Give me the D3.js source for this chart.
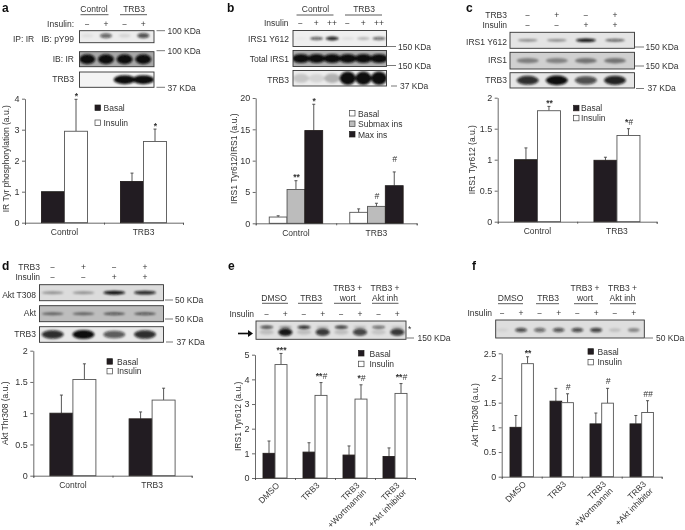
<!DOCTYPE html>
<html>
<head>
<meta charset="utf-8">
<script src="https://cdn.jsdelivr.net/npm/d3@7"></script>
<style>
  html, body { margin: 0; padding: 0; background: #fff; }
  svg { display: block; }
  text { font-family: "Liberation Sans", Arial, sans-serif; font-size: 8.5px; fill: #333; }
  .letter { font-size: 12px; font-weight: bold; fill: #111; }
  .domain, .tick line { stroke: #444; stroke-width: 0.8; }
</style>
</head>
<body>
<script>
const width = 685
const height = 530

// bar values
const groups2 = ['Control', 'TRB3']
const groups4 = ['DMSO', 'TRB3', 'TRB3|+Wortmannin', 'TRB3|+Akt inhibitor']
const seriesBI = ['Basal', 'Insulin']
const seriesIns = ['Basal', 'Submax ins', 'Max ins']

const aValues = [[1, 2.95], [1.33, 2.62]]
const aErrors = [[1, 3.98], [1.6, 3.02]]
const aMarks = [['', '*'], ['', '*']]

const bValues = [[1, 5.4, 14.8], [1.75, 2.7, 6]]
const bErrors = [[1.2, 6.8, 19], [2.3, 3.2, 8.2]]
const bMarks = [['', '**', '*'], ['', '#', '#']]

const cValues = [[1, 1.79], [0.99, 1.39]]
const cErrors = [[1.19, 1.86], [1.04, 1.5]]
const cMarks = [['', '**'], ['', '*#']]

const dValues = [[1, 1.54], [0.91, 1.21]]
const dErrors = [[1.29, 1.79], [1.02, 1.4]]
const dMarks = [['', ''], ['', '']]

const eValues = [[1, 4.6], [1.05, 3.35], [0.93, 3.2], [0.87, 3.43]]
const eErrors = [[1.5, 5.05], [1.43, 3.87], [1.3, 3.78], [1.22, 3.83]]
const eMarks = [['', '***'], ['', '**#'], ['', '*#'], ['', '**#']]

const fValues = [[1, 2.29], [1.53, 1.5], [1.07, 1.49], [1.07, 1.3]]
const fErrors = [[1.24, 2.43], [1.79, 1.68], [1.29, 1.79], [1.24, 1.54]]
const fMarks = [['', '**'], ['', '#'], ['', '#'], ['', '##']]

// band strength per lane, blot by blot
const aBlot1 = [0.06, 0.6, 0.1, 0.7]
const aBlot2 = [1, 1, 1, 1]
const aBlot3 = [0, 0, 1, 1]
const bBlot1 = [0.03, 0.6, 0.9, 0.08, 0.25, 0.55]
const bBlot2 = [1, 1, 1, 1, 1, 1]
const bBlot3 = [0.16, 0.1, 0.25, 1, 1, 1]
const cBlot1 = [0.4, 0.4, 1, 0.6]
const cBlot2 = [0.4, 0.38, 0.45, 0.45]
const cBlot3 = [0.85, 1, 0.7, 0.9]
const dBlot1 = [0.35, 0.35, 1, 0.9]
const dBlot2 = [0.5, 0.5, 0.6, 0.6]
const dBlot3 = [0.85, 1, 0.65, 0.85]
const eBlotUpper = [0.75, 0.35, 0.9, 0.2, 0.85, 0.2, 0.6, 0.15]
const eBlotLower = [0.15, 0.95, 0.15, 0.8, 0.15, 0.75, 0.12, 0.8]
const fBlot = [0.06, 0.7, 0.55, 0.65, 0.7, 0.75, 0.15, 0.4]

const svg = d3.select('body').append('svg')
  .attr('width', width)
  .attr('height', height)
  .style('background', '#fff')

const defs = svg.append('defs')
defs.append('filter').attr('id', 'soft')
  .attr('x', 0).attr('y', 0).attr('width', 1).attr('height', 1)
  .append('feGaussianBlur').attr('stdDeviation', 0.3)
defs.append('filter').attr('id', 'smear')
  .attr('x', '-30%').attr('y', '-60%').attr('width', '160%').attr('height', '220%')
  .append('feGaussianBlur').attr('stdDeviation', 0.9)

const root = svg.append('g').attr('filter', 'url(#soft)')

const BLACK = '#231f20'
const fillsBI = [BLACK, '#fff']
const fillsIns = ['#fff', '#bcbcbc', BLACK]

function label(x, y, str, anchor, cls) {
  return root.append('text')
    .attr('x', x)
    .attr('y', y)
    .attr('text-anchor', anchor || 'start')
    .attr('class', cls || null)
    .text(str)
}

function rule(x1, x2, y, color) {
  root.append('line')
    .attr('x1', x1).attr('x2', x2).attr('y1', y).attr('y2', y)
    .attr('stroke', color || '#333')
    .attr('stroke-width', 0.8)
}

function drawChart(p) {
  const g = root.append('g')
  const y = d3.scaleLinear().domain([0, p.yMax]).range([p.y0, p.y1])
  const n = p.groups.length
  const xTicks = d3.scaleLinear().domain([0, n]).range([p.x0, p.x1])
  const x = d3.scaleBand().domain(p.groups).range([p.x0, p.x1])
  const inner = d3.scaleBand()
    .domain(p.series)
    .range([x.bandwidth() / 2 - p.barW * p.series.length / 2, x.bandwidth() / 2 + p.barW * p.series.length / 2])
  const color = d3.scaleOrdinal().domain(p.series).range(p.fills)

  const groupG = g.selectAll('.group')
    .data(p.groups)
    .enter()
    .append('g')
    .attr('class', 'group')
    .attr('transform', d => 'translate(' + x(d) + ',0)')

  groupG.each(function (gName, gi) {
    const sel = d3.select(this)
    p.series.forEach(function (s, si) {
      const v = p.values[gi][si]
      const e = p.errors[gi][si]
      const cx = inner(s) + inner.bandwidth() / 2
      if (e > v) {
        sel.append('line')
          .attr('x1', cx).attr('x2', cx).attr('y1', y(v)).attr('y2', y(e))
          .attr('stroke', '#444').attr('stroke-width', 0.9)
        sel.append('line')
          .attr('x1', cx - 1.5).attr('x2', cx + 1.5).attr('y1', y(e)).attr('y2', y(e))
          .attr('stroke', '#444').attr('stroke-width', 0.9)
      }
      sel.append('rect')
        .attr('x', inner(s))
        .attr('y', y(v))
        .attr('width', inner.bandwidth())
        .attr('height', y(0) - y(v))
        .attr('fill', color(s))
        .attr('stroke', color(s) === BLACK ? BLACK : '#555')
        .attr('stroke-width', 0.9)

      const mark = p.marks[gi][si]
      if (mark) {
        const lift = (p.lift && p.lift[gi + ',' + si]) || 0
        const t = sel.append('text')
          .attr('x', cx + 0.5)
          .attr('y', y(e) - (mark.includes('#') ? 4 : 0.5) - lift)
          .attr('text-anchor', 'middle')
        const stars = mark.replace(/#/g, '')
        const hashes = mark.replace(/\*/g, '')
        if (stars) t.append('tspan').style('font-weight', 'bold').text(stars)
        if (hashes) t.append('tspan').style('font-style', 'italic').text(hashes)
      }
    })
  })

  g.append('g')
    .attr('transform', 'translate(' + p.x0 + ',0)')
    .call(d3.axisLeft(y).tickValues(p.yTicks).tickFormat(String).tickSize(3).tickSizeOuter(0).tickPadding(2.5))
    .call(a => a.selectAll('text').style('font-size', '9px'))
  g.append('g')
    .attr('transform', 'translate(0,' + p.y0 + ')')
    .call(d3.axisBottom(xTicks).ticks(n).tickFormat('').tickSize(2).tickSizeOuter(2))

  // category labels, straight or slanted
  p.groups.forEach(function (name) {
    const cx = x(name) + x.bandwidth() / 2
    if (p.slant) {
      const lines = name.split('|')
      const t = g.append('text')
        .attr('transform', 'translate(' + (cx + 5) + ',' + (p.y0 + 8) + ') rotate(-45)')
        .attr('text-anchor', 'end')
      lines.forEach((l, i) => t.append('tspan').attr('x', 0).attr('dy', i ? 9.5 : 0).text(l))
    } else {
      g.append('text')
        .attr('x', cx).attr('y', p.y0 + 12.5)
        .attr('text-anchor', 'middle')
        .text(name)
    }
  })

  g.append('text')
    .attr('transform', 'translate(' + p.titleX + ',' + ((p.y0 + p.y1) / 2 + p.titleDy) + ') rotate(-90)')
    .attr('text-anchor', 'middle')
    .text(p.title)

  // legend
  const legend = g.selectAll('.key')
    .data(p.series)
    .enter()
    .append('g')
    .attr('class', 'key')
    .attr('transform', (d, i) => 'translate(' + p.legX + ',' + (p.legY + i * p.legStep) + ')')
  legend.append('rect')
    .attr('x', 0).attr('y', -3).attr('width', 5.5).attr('height', 5.5)
    .attr('fill', d => color(d))
    .attr('stroke', d => color(d) === BLACK ? BLACK : '#444')
    .attr('stroke-width', 0.7)
  legend.append('text')
    .attr('x', p.legText)
    .attr('y', 3)
    .text(d => d)
}

function drawBands(g, b, data, shift, rx, ry) {
  const lanes = d3.scalePoint().domain(d3.range(data.length)).range([b.l0, b.l1])
  g.append('g')
    .attr('filter', 'url(#smear)')
    .selectAll('ellipse')
    .data(data)
    .enter()
    .append('ellipse')
    .attr('cx', (d, i) => lanes(i))
    .attr('cy', (b.y0 + b.y1) / 2 + shift)
    .attr('rx', rx)
    .attr('ry', d => ry * (0.6 + 0.4 * d))
    .attr('fill', '#0c0c0c')
    .attr('opacity', d => d)
}

function drawBlot(b) {
  const g = root.append('g')
  const clipId = 'clip' + Math.round(b.x0) + Math.round(b.y0)
  defs.append('clipPath').attr('id', clipId)
    .append('rect')
    .attr('x', b.x0).attr('y', b.y0)
    .attr('width', b.x1 - b.x0).attr('height', b.y1 - b.y0)
  g.append('rect')
    .attr('x', b.x0).attr('y', b.y0)
    .attr('width', b.x1 - b.x0).attr('height', b.y1 - b.y0)
    .attr('fill', b.bg)
  const inside = g.append('g').attr('clip-path', 'url(#' + clipId + ')')
  drawBands(inside, b, b.data, b.shift || 0, b.rx, b.ry)
  if (b.lower) drawBands(inside, b, b.lower, b.lowerShift, b.lowerRx, b.lowerRy)
  g.append('rect')
    .attr('x', b.x0).attr('y', b.y0)
    .attr('width', b.x1 - b.x0).attr('height', b.y1 - b.y0)
    .attr('fill', 'none')
    .attr('stroke', '#333')
    .attr('stroke-width', 0.9)
}

function signs(list, scale, y) {
  list.forEach((s, i) => {
    root.append('text')
      .attr('x', scale(i))
      .attr('y', y)
      .attr('text-anchor', 'middle')
      .text(s === '-' ? '\u2212' : s)
  })
}

function sizeMark(x1, x2, y, str, tx, ty) {
  rule(x1, x2, y, '#555')
  label(tx, ty, str)
}

// panel letters
label(2, 11.5, 'a', 'start', 'letter')
label(227, 11.5, 'b', 'start', 'letter')
label(466, 11.5, 'c', 'start', 'letter')
label(2, 270, 'd', 'start', 'letter')
label(228, 270, 'e', 'start', 'letter')
label(472, 270, 'f', 'start', 'letter')

// panel a
label(94, 12, 'Control', 'middle')
rule(80.5, 108.5, 14.7)
label(134, 12, 'TRB3', 'middle')
rule(120, 147, 14.7)
label(74, 26.5, 'Insulin:', 'end')
signs(['-', '+', '-', '+'], d3.scalePoint().domain(d3.range(4)).range([87.3, 143.3]), 26.5)
label(13, 41.5, 'IP: IR')
label(74, 41.5, 'IB: pY99', 'end')
label(74, 62, 'IB: IR', 'end')
label(74, 82, 'TRB3', 'end')
drawBlot({ x0: 79.5, x1: 154, y0: 30.7, y1: 42.7, bg: '#ececec', l0: 87.3, l1: 143.3, rx: 6, ry: 3, data: aBlot1, shift: -1 })
drawBlot({ x0: 79.5, x1: 154, y0: 51.7, y1: 66.7, bg: '#a8a8a8', l0: 87.3, l1: 143.3, rx: 8, ry: 5, data: aBlot2 })
drawBlot({ x0: 79.5, x1: 154, y0: 72, y1: 87.3, bg: '#f4f4f4', l0: 87.3, l1: 143.3, rx: 11, ry: 4.5, data: aBlot3 })
sizeMark(156.5, 165, 30.7, '100 KDa', 167.5, 34)
sizeMark(156.5, 165, 50.7, '100 KDa', 167.5, 54)
sizeMark(156.5, 165, 87.3, '37 KDa', 167.5, 91)
drawChart({
  groups: groups2, series: seriesBI, fills: fillsBI, values: aValues, errors: aErrors, marks: aMarks,
  x0: 25, x1: 183, y0: 222.7, y1: 98.7, yMax: 4, yTicks: [0, 1, 2, 3, 4], barW: 23,
  title: 'IR Tyr phosphorylation (a.u.)', titleX: 9, titleDy: -2,
  legX: 95, legY: 108, legStep: 15, legText: 8.5
})

// panel b
label(315.5, 12, 'Control', 'middle')
rule(296.5, 333.5, 15)
label(364, 12, 'TRB3', 'middle')
rule(345, 382, 15)
label(288.5, 26, 'Insulin', 'end')
signs(['-', '+', '++', '-', '+', '++'], d3.scalePoint().domain(d3.range(6)).range([300.5, 379]), 26)
label(289, 42, 'IRS1 Y612', 'end')
label(289, 62, 'Total IRS1', 'end')
label(289, 83, 'TRB3', 'end')
drawBlot({ x0: 293, x1: 386.5, y0: 30.5, y1: 46.5, bg: '#efefef', l0: 301, l1: 379, rx: 6.5, ry: 2, data: bBlot1 })
drawBlot({ x0: 293, x1: 386.5, y0: 50.5, y1: 66.5, bg: '#b0b0b0', l0: 301, l1: 379, rx: 9, ry: 4.6, data: bBlot2 })
drawBlot({ x0: 293, x1: 386.5, y0: 70.5, y1: 86, bg: '#ececec', l0: 301, l1: 379, rx: 8, ry: 6.8, data: bBlot3 })
sizeMark(387, 396, 46.5, '150 KDa', 398, 49.5)
sizeMark(387, 396, 65.5, '150 KDa', 398, 68.5)
sizeMark(391, 397, 86, '37 KDa', 400, 89)
drawChart({
  groups: groups2, series: seriesIns, fills: fillsIns, values: bValues, errors: bErrors, marks: bMarks,
  x0: 255.7, x1: 416.7, y0: 223.3, y1: 98, yMax: 20, yTicks: [0, 5, 10, 15, 20], barW: 17.8,
  title: 'IRS1 Tyr612/IRS1 (a.u.)', titleX: 236.5, titleDy: -2, lift: { '1,2': 6 },
  legX: 349.5, legY: 113.5, legStep: 10.5, legText: 8.5
})

// panel c
const cLanes = d3.scalePoint().domain(d3.range(4)).range([527.7, 615])
label(507, 18, 'TRB3', 'end')
label(507, 28, 'Insulin', 'end')
signs(['-', '+', '-', '+'], cLanes, 18)
signs(['-', '-', '+', '+'], cLanes, 28)
label(507, 44.5, 'IRS1 Y612', 'end')
label(507, 63, 'IRS1', 'end')
label(507, 83, 'TRB3', 'end')
drawBlot({ x0: 510, x1: 634.5, y0: 32.3, y1: 48.3, bg: '#e4e4e4', l0: 527.7, l1: 615, rx: 10, ry: 1.8, data: cBlot1 })
drawBlot({ x0: 510, x1: 634.5, y0: 52.3, y1: 69, bg: '#d0d0d0', l0: 527.7, l1: 615, rx: 11, ry: 3.5, data: cBlot2 })
drawBlot({ x0: 510, x1: 634.5, y0: 72.7, y1: 88, bg: '#e6e6e6', l0: 527.7, l1: 615, rx: 11, ry: 4.8, data: cBlot3 })
sizeMark(635, 644, 47, '150 KDa', 645.5, 49.5)
sizeMark(635, 644, 66, '150 KDa', 645.5, 68.5)
sizeMark(636, 644, 88.5, '37 KDa', 647.5, 91)
drawChart({
  groups: groups2, series: seriesBI, fills: fillsBI, values: cValues, errors: cErrors, marks: cMarks,
  x0: 497.7, x1: 656.7, y0: 221.7, y1: 97.7, yMax: 2, yTicks: [0, 0.5, 1, 1.5, 2], barW: 23,
  title: 'IRS1 Tyr612 (a.u.)', titleX: 475, titleDy: 0,
  legX: 573.5, legY: 108.3, legStep: 10, legText: 7.5
})

// panel d
const dLanes = d3.scalePoint().domain(d3.range(4)).range([52.7, 145])
label(40, 270, 'TRB3', 'end')
label(40, 280, 'Insulin', 'end')
signs(['-', '+', '-', '+'], dLanes, 270)
signs(['-', '-', '+', '+'], dLanes, 280)
label(36, 298, 'Akt T308', 'end')
label(36, 316, 'Akt', 'end')
label(36, 337, 'TRB3', 'end')
drawBlot({ x0: 39.5, x1: 163.5, y0: 284.7, y1: 300.7, bg: '#dcdcdc', l0: 52.7, l1: 145, rx: 11, ry: 2, data: dBlot1 })
drawBlot({ x0: 39.5, x1: 163.5, y0: 305.7, y1: 321.7, bg: '#bdbdbd', l0: 52.7, l1: 145, rx: 11, ry: 1.8, data: dBlot2 })
drawBlot({ x0: 39.5, x1: 163.5, y0: 326.7, y1: 342.3, bg: '#e8e8e8', l0: 52.7, l1: 145, rx: 11, ry: 4.5, data: dBlot3 })
sizeMark(165, 173, 300, '50 KDa', 175, 303)
sizeMark(165, 173, 319, '50 KDa', 175, 322)
sizeMark(166, 173, 342, '37 KDa', 176.5, 345)
drawChart({
  groups: groups2, series: seriesBI, fills: fillsBI, values: dValues, errors: dErrors, marks: dMarks,
  x0: 33.3, x1: 191.7, y0: 475.7, y1: 350.7, yMax: 2, yTicks: [0, 0.5, 1, 1.5, 2], barW: 23,
  title: 'Akt Thr308 (a.u.)', titleX: 7.5, titleDy: 0,
  legX: 107, legY: 361.7, legStep: 9.7, legText: 10
})

// panel e
const eLanes = d3.scalePoint().domain(d3.range(8)).range([266.7, 397.3])
label(274, 301, 'DMSO', 'middle')
rule(262, 288, 303.3)
label(311, 301, 'TRB3', 'middle')
rule(298, 322.5, 303.3)
label(347.7, 291, 'TRB3 +', 'middle')
label(347.7, 301, 'wort', 'middle')
rule(334, 361, 303.3)
label(385, 291, 'TRB3 +', 'middle')
label(385, 301, 'Akt inh', 'middle')
rule(372, 398.5, 303.3)
label(254, 317, 'Insulin', 'end')
signs(['-', '+', '-', '+', '-', '+', '-', '+'], eLanes, 317)
drawBlot({
  x0: 256, x1: 406, y0: 321, y1: 339.3, bg: '#e0e0e0', l0: 266.7, l1: 397.3,
  rx: 6.5, ry: 1.8, data: eBlotUpper, shift: -3,
  lower: eBlotLower, lowerShift: 2, lowerRx: 7, lowerRy: 4
})
root.append('path')
  .attr('d', d3.line()([[238, 333.5], [249, 333.5]]))
  .attr('stroke', '#111').attr('stroke-width', 1.6)
root.append('path')
  .attr('d', d3.line()([[248, 330], [253, 333.5], [248, 337]]) + 'Z')
  .attr('fill', '#111')
label(408, 332, '*')
sizeMark(406.5, 414, 338, '150 KDa', 417.5, 341)
drawChart({
  groups: groups4, series: seriesBI, fills: fillsBI, values: eValues, errors: eErrors, marks: eMarks,
  x0: 255, x1: 415, y0: 478, y1: 354.7, yMax: 5, yTicks: [0, 1, 2, 3, 4, 5], barW: 12, slant: true,
  title: 'IRS1 Tyr612 (a.u.)', titleX: 240.5, titleDy: 0,
  legX: 358.5, legY: 353.5, legStep: 10.7, legText: 11
})

// panel f
const fLanes = d3.scalePoint().domain(d3.range(8)).range([502.3, 633.7])
label(510.5, 301, 'DMSO', 'middle')
rule(498, 523, 303.7)
label(548, 301, 'TRB3', 'middle')
rule(536, 559, 303.7)
label(585, 291, 'TRB3 +', 'middle')
label(585, 301, 'wort', 'middle')
rule(574, 598, 303.7)
label(622.5, 291, 'TRB3 +', 'middle')
label(622.5, 301, 'Akt inh', 'middle')
rule(610, 636, 303.7)
label(492, 316, 'Insulin', 'end')
signs(['-', '+', '-', '+', '-', '+', '-', '+'], fLanes, 316)
drawBlot({ x0: 495.7, x1: 644.3, y0: 320, y1: 338, bg: '#dedede', l0: 502.3, l1: 633.7, rx: 6, ry: 2.6, data: fBlot, shift: 1 })
sizeMark(645, 653, 338, '50 KDa', 656, 341)
drawChart({
  groups: groups4, series: seriesBI, fills: fillsBI, values: fValues, errors: fErrors, marks: fMarks,
  x0: 501.7, x1: 661.7, y0: 476.7, y1: 353.3, yMax: 2.5, yTicks: [0, 0.5, 1, 1.5, 2, 2.5], barW: 11.7, slant: true,
  title: 'Akt Thr308 (a.u.)', titleX: 478, titleDy: 0,
  legX: 588, legY: 351.7, legStep: 10.7, legText: 9.5
})
</script>
</body>
</html>
